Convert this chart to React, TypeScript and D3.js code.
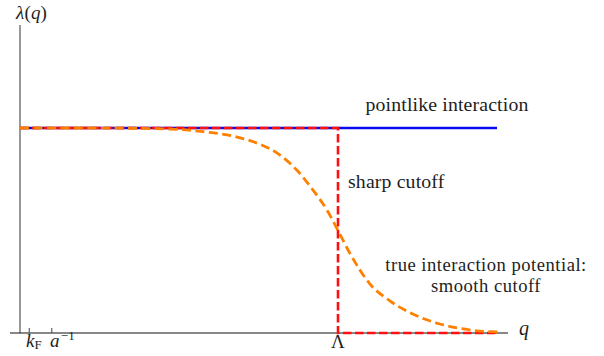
import React from "react";
import * as d3 from "d3";

// Momentum grid for the smooth (true) interaction λ(q); q in units of Λ
const smoothQ = [0, 0.2, 0.473, 0.577, 0.683, 0.746, 0.809, 0.871, 0.922, 0.966, 1.0, 1.038, 1.1, 1.163, 1.235, 1.32, 1.414, 1.502];
const smoothLambda = [1, 1, 0.995, 0.982, 0.956, 0.926, 0.877, 0.794, 0.696, 0.598, 0.5, 0.387, 0.24, 0.157, 0.093, 0.044, 0.015, 0.005];

// Pointlike (constant) coupling
const pointQ = [0, 1.5];
const pointLambda = [1, 1];

// Sharp cutoff at Λ
const sharpQ = [0, 1, 1, 1.5];
const sharpLambda = [1, 1, 0, 0];

// Axis tick positions: k_F, 1/a, Λ
const tickQ = [0.029, 0.1, 1.0];

const W = 604;
const H = 356;
const FONT = '"Liberation Serif"';

export default function App() {
  const x = d3.scaleLinear().domain([0, 1]).range([20, 338]);
  const y = d3.scaleLinear().domain([0, 1]).range([333, 128]);

  const linearLine = d3
    .line<[number, number]>()
    .x((d) => x(d[0]))
    .y((d) => y(d[1]));
  const smoothLine = d3
    .line<[number, number]>()
    .x((d) => x(d[0]))
    .y((d) => y(d[1]))
    .curve(d3.curveMonotoneX);

  const smoothPts = smoothQ.map((q, i) => [q, smoothLambda[i]] as [number, number]);
  const pointPts = pointQ.map((q, i) => [q, pointLambda[i]] as [number, number]);
  const sharpPts = sharpQ.map((q, i) => [q, sharpLambda[i]] as [number, number]);

  const axisColor = "#444";
  const ink = "#1e1e1e";

  const Label = (props: React.SVGProps<SVGTextElement>) => (
    <text fill={ink} fontSize={19.8} letterSpacing={0.15} {...props} style={{ fontFamily: FONT }} />
  );

  return (
    <svg
      width={W}
      height={H}
      viewBox={`0 0 ${W} ${H}`}
      style={{ position: "absolute", left: 0, top: 0, background: "#fff" }}
    >
      {/* axes */}
      <line x1={x(0)} x2={x(0)} y1={25} y2={y(0)} stroke={axisColor} strokeWidth={1.1} />
      <line x1={10} x2={508} y1={y(0)} y2={y(0)} stroke="#111" strokeWidth={1} />
      {tickQ.map((t, i) => (
        <line key={i} x1={x(t)} x2={x(t)} y1={y(0)} y2={y(0) - 5} stroke={axisColor} strokeWidth={1} />
      ))}

      {/* pointlike interaction */}
      <path d={linearLine(pointPts) || ""} fill="none" stroke="#0a0af0" strokeWidth={2.6} />
      {/* sharp cutoff */}
      <path
        d={linearLine(sharpPts) || ""}
        fill="none"
        stroke="#ff1010"
        strokeWidth={2.6}
        strokeDasharray="8.5 3.5"
      />
      {/* smooth cutoff */}
      <path
        d={smoothLine(smoothPts) || ""}
        fill="none"
        stroke="#ff8000"
        strokeWidth={2.8}
        strokeDasharray="9 4.5"
      />

      {/* axis labels */}
      <Label x={16} y={18.5} fontSize={19}>
        <tspan fontStyle="italic">λ</tspan>(<tspan fontStyle="italic">q</tspan>)
      </Label>
      <Label x={519} y={335} fontSize={20} fontStyle="italic">q</Label>
      <Label x={x(1)} y={348} fontSize={19} textAnchor="middle">Λ</Label>
      <Label x={26} y={347} fontSize={19}>
        <tspan fontStyle="italic">k</tspan>
        <tspan fontSize={13} dy={2}>F</tspan>
      </Label>
      <Label x={50} y={347} fontSize={19}>
        <tspan fontStyle="italic">a</tspan>
        <tspan fontSize={13} dx={1} dy={-7}>−1</tspan>
      </Label>

      {/* curve annotations */}
      <Label x={447} y={110.5} textAnchor="middle">pointlike interaction</Label>
      <Label x={348} y={187.5}>sharp cutoff</Label>
      <Label x={486} y={270.8} fontSize={18.6} letterSpacing={0.5} textAnchor="middle">
        true interaction potential:
      </Label>
      <Label x={486} y={291.8} fontSize={18.6} letterSpacing={0.5} textAnchor="middle">
        smooth cutoff
      </Label>
    </svg>
  );
}
